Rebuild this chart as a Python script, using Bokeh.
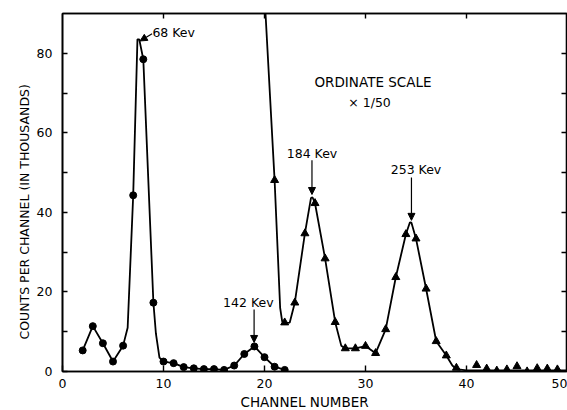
from bokeh.plotting import figure
from bokeh.models import (Range1d, FixedTicker, LinearAxis, Label, Arrow,
                          NormalHead, CustomJSTickFormatter, Title)
from bokeh.embed import file_html
from bokeh.resources import INLINE

# ---------------- data ----------------
# Low-energy series (circles), counts per channel in thousands
circ_ch = [2, 3, 4, 5, 6, 7, 8, 9, 10, 11, 12, 13, 14, 15, 16, 17, 18, 19, 20, 21, 22]
circ_val = [5.3, 11.4, 7.1, 2.5, 6.5, 44.3, 78.5, 17.3, 2.5, 2.1, 1.1, 0.8, 0.6,
            0.6, 0.4, 1.5, 4.4, 6.3, 3.6, 1.2, 0.4]
# hand-drawn curve through the circles
circ_curve_x = [2, 3, 4, 5, 6, 6.45, 7, 7.42, 7.6, 8, 9, 9.25, 9.6, 10, 11, 12, 13,
                14, 15, 16, 17, 18, 19, 20, 21, 22]
circ_curve_y = [5.3, 11.4, 7.1, 2.5, 6.5, 11.0, 44.3, 83.5, 83.5, 78.5, 17.3, 9.5,
                3.5, 2.5, 2.1, 1.1, 0.8, 0.6, 0.6, 0.4, 1.5, 4.4, 6.3, 3.6, 1.2, 0.4]

# High-energy series (triangles), ordinate scale x 1/50
tri_ch = [21, 22, 23, 24, 25, 26, 27, 28, 29, 30, 31, 32, 33, 34, 35, 36, 37, 38, 39,
          41, 42, 43, 44, 45, 46, 47, 48, 49]
tri_val = [48.1, 12.3, 17.3, 34.7, 42.3, 28.4, 12.4, 5.8, 5.8, 6.4, 4.6, 10.6, 23.7,
           34.5, 33.4, 20.8, 7.6, 4.0, 0.9, 1.6, 0.7, 0.2, 0.5, 1.3, 0.0, 0.8, 0.7, 0.5]
# hand-drawn curve through the triangles
tri_curve_x = [20.1, 21, 21.55, 21.75, 22, 22.5, 23, 24, 24.6, 24.75, 25, 26, 27, 27.6,
               28, 29, 30, 31, 32, 33, 34, 34.4, 34.55, 35, 36, 37, 38, 38.6, 39, 40, 50]
tri_curve_y = [90, 48.1, 16.0, 12.6, 12.2, 12.3, 17.3, 34.7, 43.6, 43.8, 42.3, 28.4,
               12.4, 6.5, 5.8, 5.8, 6.4, 4.6, 10.6, 23.7, 34.5, 37.5, 37.4, 33.4, 20.8,
               7.6, 4.0, 1.5, 0.6, 0.3, 0.3]

x_ticks = [0, 10, 20, 30, 40, 50]
y_ticks = [0, 20, 40, 60, 80]
y_minor = [10, 30, 50, 70]

FONT = "DejaVu Sans"

p = figure(width=567, height=410, x_range=Range1d(0, 50), y_range=Range1d(0, 90),
           output_backend="svg", toolbar_location=None,
           min_border_left=62, min_border_right=0, min_border_top=13,
           min_border_bottom=38, background_fill_color="white",
           border_fill_color="white")
p.xgrid.visible = False
p.ygrid.visible = False
p.outline_line_color = "black"
p.outline_line_width = 1.6

# bottom axis
xa = p.xaxis[0]
xa.ticker = FixedTicker(ticks=x_ticks)
xa.major_tick_in = 6
xa.major_tick_out = 0
xa.minor_tick_in = 0
xa.minor_tick_out = 0
xa.axis_line_width = 1.6
xa.major_tick_line_width = 1.4
xa.major_label_text_font = FONT
xa.major_label_text_font_size = "12.5px"
xa.major_label_text_color = "black"
xa.major_label_standoff = 7

# left axis
ya = p.yaxis[0]
ya.ticker = FixedTicker(ticks=y_ticks, minor_ticks=y_minor)
ya.major_tick_in = 5
ya.major_tick_out = 0
ya.minor_tick_in = 5
ya.minor_tick_out = 0
ya.axis_line_width = 1.6
ya.major_tick_line_width = 1.4
ya.minor_tick_line_width = 1.4
ya.major_label_text_font = FONT
ya.major_label_text_font_size = "12.5px"
ya.major_label_text_color = "black"
ya.major_label_standoff = 10

blank = CustomJSTickFormatter(code="return ''")
top = LinearAxis(ticker=FixedTicker(ticks=[10, 20, 30, 40]), formatter=blank,
                 major_tick_in=5, major_tick_out=0, minor_tick_in=0, minor_tick_out=0,
                 major_label_text_font_size="0px", major_label_standoff=0,
                 axis_label_standoff=0,
                 axis_line_width=1.6, major_tick_line_width=1.4)
p.add_layout(top, "above")
right = LinearAxis(ticker=FixedTicker(ticks=[10, 20, 30, 40, 50, 60, 70, 80]),
                   formatter=blank, major_tick_in=6, major_tick_out=0,
                   minor_tick_in=0, minor_tick_out=0,
                   major_label_text_font_size="0px", major_label_standoff=0,
                   axis_label_standoff=0,
                   axis_line_width=1.6, major_tick_line_width=1.4)
p.add_layout(right, "right")

# axis titles placed in the side panels
p.add_layout(Title(text="COUNTS PER CHANNEL (IN THOUSANDS)", align="left", offset=32,
                   standoff=4, text_font=FONT, text_font_size="12.5px",
                   text_font_style="normal", text_color="black"), "left")
p.add_layout(Title(text="CHANNEL NUMBER", align="left", offset=178, standoff=2,
                   text_font=FONT, text_font_size="13.5px", text_font_style="normal",
                   text_color="black"), "below")

# curves and points
p.line(circ_curve_x, circ_curve_y, line_color="black", line_width=1.8)
p.line(tri_curve_x, tri_curve_y, line_color="black", line_width=1.8)
p.scatter(circ_ch, circ_val, marker="circle", size=7, fill_color="black",
          line_color="black")
p.scatter(tri_ch, tri_val, marker="triangle", size=8, fill_color="black",
          line_color="black")


def note(x, y, text, align="center", size="12.5px"):
    p.add_layout(Label(x=x, y=y, text=text, text_align=align, text_baseline="middle",
                       text_font=FONT, text_font_size=size, text_color="black"))


def arrow(x0, y0, x1, y1):
    p.add_layout(Arrow(end=NormalHead(size=7, fill_color="black", line_color="black",
                                      line_width=1),
                       x_start=x0, y_start=y0, x_end=x1, y_end=y1,
                       line_color="black", line_width=1.2))


note(8.9, 85.1, "68 Kev", align="left")
arrow(8.87, 84.9, 7.68, 83.1)
note(18.4, 17.3, "142 Kev")
arrow(18.97, 15.6, 18.97, 7.3)
note(24.7, 54.9, "184 Kev")
arrow(24.7, 53.1, 24.7, 44.5)
note(35.0, 50.8, "253 Kev")
arrow(34.55, 48.8, 34.55, 38.0)
note(30.74, 72.8, "ORDINATE SCALE", size="13.5px")
note(30.4, 67.7, "× 1/50", size="12.5px")

open("out.html", "w").write(file_html(p, INLINE))
